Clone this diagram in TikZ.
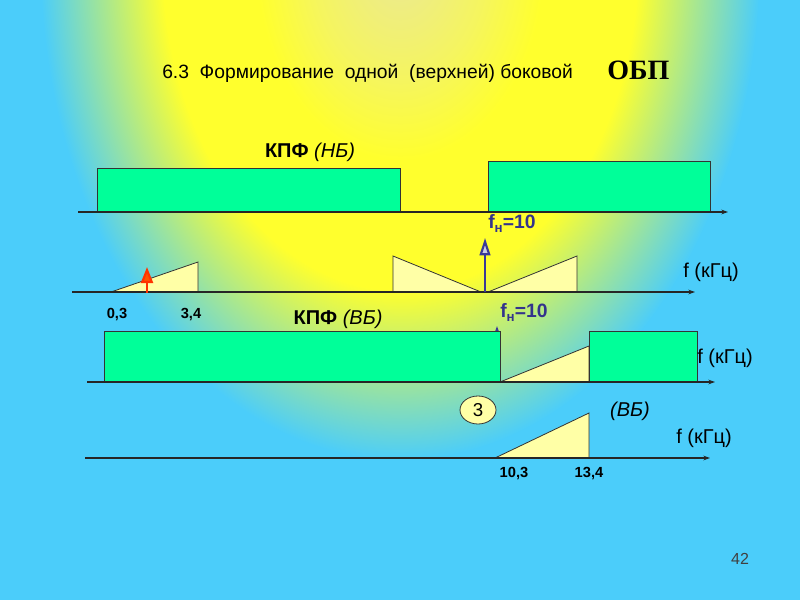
\documentclass[tikz,border=0pt]{standalone}
\usepackage{fontspec}
\setmainfont{Liberation Sans}
\newfontfamily\timesf{Liberation Serif}
\usetikzlibrary{arrows.meta,shapes.geometric}
\definecolor{bgblue}{RGB}{75,205,250}
\definecolor{bgc0}{RGB}{234,232,150}
\definecolor{bgc1}{RGB}{245,245,95}
\definecolor{bgy}{RGB}{255,255,45}
\definecolor{boxgreen}{RGB}{0,255,153}
\definecolor{trifill}{RGB}{255,255,166}
\definecolor{fblue}{RGB}{58,58,150}
\definecolor{lblue}{RGB}{51,51,140}
\definecolor{redarr}{RGB}{255,51,0}
\pgfdeclareradialshading{bgshade}{\pgfpoint{0bp}{0bp}}{color(0bp)=(bgc0); color(6bp)=(bgc1); color(10bp)=(bgy); color(16.5bp)=(bgy); color(25bp)=(bgblue); color(50bp)=(bgblue)}
\tikzset{
  axis/.style={draw=black!85, line width=0.8pt, -{Stealth[length=5pt,width=3.5pt]}},
  band/.style={draw=black!80, line width=0.6pt, fill=boxgreen},
  tri/.style={draw=black!80, line width=0.6pt, fill=trifill},
  lbl/.style={inner sep=0pt, font=\fontsize{15}{17}\selectfont},
  num/.style={inner sep=0pt, font=\fontsize{11}{13}\selectfont\bfseries},
  flbl/.style={inner sep=0pt, text=lblue, font=\fontsize{14.5}{16}\selectfont\bfseries},
}
\begin{document}
\begin{tikzpicture}[x=0.75pt,y=-0.75pt]
\useasboundingbox (0,0) rectangle (800,600);
\fill[bgblue] (0,0) rectangle (800,600);
\begin{scope}
\clip (0,0) rectangle (800,600);
\shade[shading=bgshade] (400,-40) ellipse [x radius=360, y radius=500];
\end{scope}

% title
\node[anchor=base west, inner sep=0pt, font=\fontsize{14.45}{16}\selectfont] (title) at (162,78) {6.3\ \ Формирование\ \ одной\ \ (верхней) боковой};
\node[anchor=base west, inner sep=0pt, font=\timesf\fontsize{21}{24}\selectfont\bfseries] (obp) at (607,79) {ОБП};

% ---- graph 1 : KPF (NB)
\coordinate (a1s) at (78,212);
\coordinate (a1e) at (728,212);
\draw[band] (97,168) rectangle (400,212);
\draw[band] (488,161) rectangle (710,212);
\draw[axis] (a1s) -- (a1e);
\node[lbl, anchor=base] (kpfnb) at (310,157) {\textbf{КПФ} \textit{(НБ)}};
\node[flbl, anchor=base west] (fn1) at (488,228) {f\raisebox{-0.45ex}{\fontsize{10}{11}\selectfont н}=10};

% ---- graph 2 : spectrum
\coordinate (a2s) at (72,292);
\coordinate (a2e) at (695,292);
\draw[tri] (111,292) -- (198,262) -- (198,292) -- cycle;
\draw[tri] (393,256) -- (481,292) -- (393,292) -- cycle;
\draw[tri] (488,292) -- (577,256) -- (577,292) -- cycle;
\draw[axis] (a2s) -- (a2e);
\coordinate (r0) at (147,293);
\coordinate (r1) at (147,267);
\draw[redarr, line width=1.6pt, -{Triangle[length=12pt,width=9pt,fill=redarr!60!orange]}] (r0) -- (r1);
\coordinate (b0) at (485,292);
\coordinate (b1) at (485,238);
\draw[fblue, line width=1.6pt, -{Triangle[length=13pt,width=8pt,fill=fblue!25]}] (b0) -- (b1);
\node[lbl, anchor=base west] (fk2) at (683,277) {f (кГц)};
\node[num, anchor=base] (n03) at (117,318) {0,3};
\node[num, anchor=base] (n34) at (191,318) {3,4};

% ---- graph 3 : KPF (VB)
\node[lbl, anchor=base] (kpfvb) at (338,324) {\textbf{КПФ} \textit{(ВБ)}};
\node[flbl, anchor=base west] (fn2) at (500,317) {f\raisebox{-0.45ex}{\fontsize{10}{11}\selectfont н}=10};
\coordinate (s0) at (497,360);
\coordinate (s1) at (497,326);
\draw[fblue, line width=1pt, -{Triangle[length=6pt,width=4pt]}] (s0) -- (s1);
\coordinate (a3s) at (87,382);
\coordinate (a3e) at (715,382);
\draw[band] (104,331) rectangle (500,382);
\draw[tri] (500,382) -- (589,346) -- (589,382) -- cycle;
\draw[band] (589,331) rectangle (697,382);
\draw[axis] (a3s) -- (a3e);
\node[lbl, anchor=base west] (fk3) at (697,363) {f (кГц)};

% ---- graph 4 : result
\node[draw=black!80, line width=0.6pt, fill=trifill, ellipse, minimum width=27pt, minimum height=21pt, inner sep=0pt, font=\fontsize{14}{16}\selectfont] (three) at (478,410) {3};
\node[lbl, anchor=base] (vb) at (630,416) {\textit{(ВБ)}};
\node[lbl, anchor=base west] (fk4) at (676,443) {f (кГц)};
\coordinate (a4s) at (85,458);
\coordinate (a4e) at (710,458);
\draw[tri] (495,458) -- (589,413) -- (589,458) -- cycle;
\draw[axis] (a4s) -- (a4e);
\node[num, anchor=base] (n103) at (514,477) {10,3};
\node[num, anchor=base] (n134) at (589,477) {13,4};

\node[inner sep=0pt, anchor=base, text=black!75, font=\fontsize{12}{14}\selectfont] (page) at (740,564) {42};
\end{tikzpicture}
\end{document}
